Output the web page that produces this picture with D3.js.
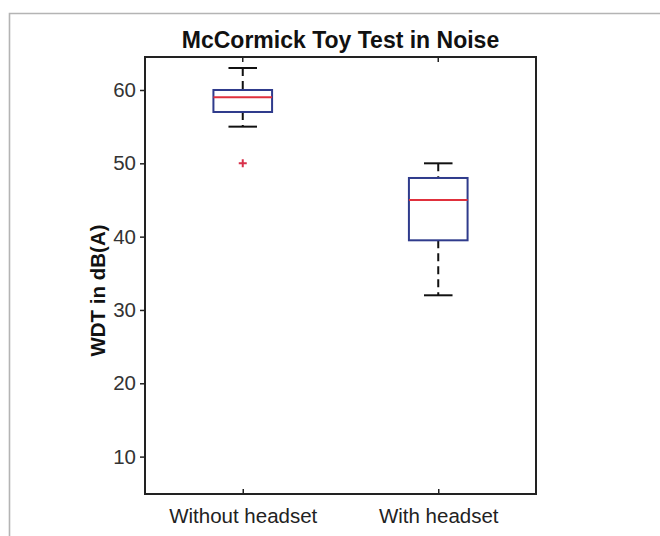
<!DOCTYPE html>
<html>
<head>
<meta charset="utf-8">
<script src="https://cdn.jsdelivr.net/npm/d3@7"></script>
<style>
  html, body { margin: 0; padding: 0; background: #fff; }
  svg { display: block; font-family: "Liberation Sans", Arial, sans-serif; }
</style>
</head>
<body>
<div id="chart"></div>
<script>
// Box statistics
const categories = ["Without headset", "With headset"];
const whiskerLow = [55, 32];
const q1 = [57, 39.5];
const median = [59, 45];
const q3 = [60, 48];
const whiskerHigh = [63, 50];
const outliers = [[50], []];
const yTicks = [10, 20, 30, 40, 50, 60];

const width = 660;
const height = 536;
const margin = { top: 57, right: 124, bottom: 42, left: 145 };
const plotW = width - margin.left - margin.right;
const plotH = height - margin.top - margin.bottom;

const svg = d3.select("#chart").append("svg")
    .attr("width", width)
    .attr("height", height);

// light outer frame (runs off the right and bottom edges)
svg.append("path")
    .attr("d", `M9.5,${height + 2} V13.5 H${width + 2}`)
    .attr("fill", "none")
    .attr("stroke", "#b4b4b4")
    .attr("stroke-width", 1.6);

const g = svg.append("g")
    .attr("transform", `translate(${margin.left},${margin.top})`);

// scales: category index 1..n on a [0.5, n + 0.5] range like MATLAB boxplot
const x = d3.scaleLinear().domain([0.5, categories.length + 0.5]).range([0, plotW]);
const y = d3.scaleLinear().domain([4.9, 64.5]).range([plotH, 0]);

const boxHalf = 0.15;
const capHalf = 0.073;

const boxes = categories.map((c, i) => ({
    name: c, pos: i + 1,
    lo: whiskerLow[i], q1: q1[i], med: median[i], q3: q3[i], hi: whiskerHigh[i],
    out: outliers[i]
}));

// whiskers (dashed)
const wg = g.selectAll(".whisk").data(boxes).enter().append("g");
wg.append("line")
    .attr("x1", d => x(d.pos)).attr("x2", d => x(d.pos))
    .attr("y1", d => y(d.hi)).attr("y2", d => y(d.q3))
    .attr("stroke", "#111").attr("stroke-width", 2).attr("stroke-dasharray", "8,5");
wg.append("line")
    .attr("x1", d => x(d.pos)).attr("x2", d => x(d.pos))
    .attr("y1", d => y(d.q1)).attr("y2", d => y(d.lo))
    .attr("stroke", "#111").attr("stroke-width", 2).attr("stroke-dasharray", "8,5");
// caps
wg.append("line")
    .attr("x1", d => x(d.pos - capHalf)).attr("x2", d => x(d.pos + capHalf))
    .attr("y1", d => y(d.hi)).attr("y2", d => y(d.hi))
    .attr("stroke", "#111").attr("stroke-width", 2);
wg.append("line")
    .attr("x1", d => x(d.pos - capHalf)).attr("x2", d => x(d.pos + capHalf))
    .attr("y1", d => y(d.lo)).attr("y2", d => y(d.lo))
    .attr("stroke", "#111").attr("stroke-width", 2);

// boxes
g.selectAll(".box").data(boxes).enter().append("rect")
    .attr("x", d => x(d.pos - boxHalf))
    .attr("width", d => x(d.pos + boxHalf) - x(d.pos - boxHalf))
    .attr("y", d => y(d.q3))
    .attr("height", d => y(d.q1) - y(d.q3))
    .attr("fill", "none")
    .attr("stroke", "#2f3b8c")
    .attr("stroke-width", 2);

// medians
g.selectAll(".med").data(boxes).enter().append("line")
    .attr("x1", d => x(d.pos - boxHalf)).attr("x2", d => x(d.pos + boxHalf))
    .attr("y1", d => y(d.med)).attr("y2", d => y(d.med))
    .attr("stroke", "#e0303c")
    .attr("stroke-width", 2);

// outliers as red "+"
const outPts = boxes.flatMap(d => d.out.map(v => ({ pos: d.pos, v })));
g.selectAll(".out").data(outPts).enter().append("path")
    .attr("d", d => `M${x(d.pos) - 4},${y(d.v)} h8 M${x(d.pos)},${y(d.v) - 4} v8`)
    .attr("stroke", "#d8304a")
    .attr("stroke-width", 2);

// axes frame
g.append("rect")
    .attr("width", plotW).attr("height", plotH)
    .attr("fill", "none").attr("stroke", "#222").attr("stroke-width", 2);

// y axis (ticks outward)
const yAxis = g.append("g")
    .call(d3.axisLeft(y).tickValues(yTicks).tickSize(5).tickPadding(4));
yAxis.select(".domain").remove();
yAxis.selectAll(".tick line").attr("stroke", "#222").attr("stroke-width", 1.5);
yAxis.selectAll("text")
    .attr("fill", "#333")
    .style("font-size", "20.5px")
    .style("font-family", "Liberation Sans, Arial, sans-serif");

// x axis (ticks inward on bottom and top)
const xAxis = g.append("g")
    .attr("transform", `translate(0,${plotH})`)
    .call(d3.axisBottom(x).tickValues(boxes.map(d => d.pos))
        .tickFormat((d, i) => categories[i]).tickSizeInner(-5).tickSizeOuter(0).tickPadding(14));
xAxis.select(".domain").remove();
xAxis.selectAll(".tick line").attr("stroke", "#222").attr("stroke-width", 1.5);
xAxis.selectAll("text")
    .attr("fill", "#222")
    .style("font-size", "20.5px")
    .style("font-family", "Liberation Sans, Arial, sans-serif");

g.selectAll(".topTick").data(boxes).enter().append("line")
    .attr("x1", d => x(d.pos)).attr("x2", d => x(d.pos))
    .attr("y1", 0).attr("y2", 5)
    .attr("stroke", "#222").attr("stroke-width", 1.5);

// title
svg.append("text")
    .attr("x", margin.left + plotW / 2)
    .attr("y", 48)
    .attr("text-anchor", "middle")
    .style("font-size", "23px")
    .style("font-weight", "bold")
    .attr("fill", "#111")
    .text("McCormick Toy Test in Noise");

// y label
svg.append("text")
    .attr("transform", `translate(105,${margin.top + plotH / 2 + 15}) rotate(-90)`)
    .attr("text-anchor", "middle")
    .style("font-size", "20.5px")
    .style("font-weight", "bold")
    .attr("fill", "#111")
    .text("WDT in dB(A)");
</script>
</body>
</html>
